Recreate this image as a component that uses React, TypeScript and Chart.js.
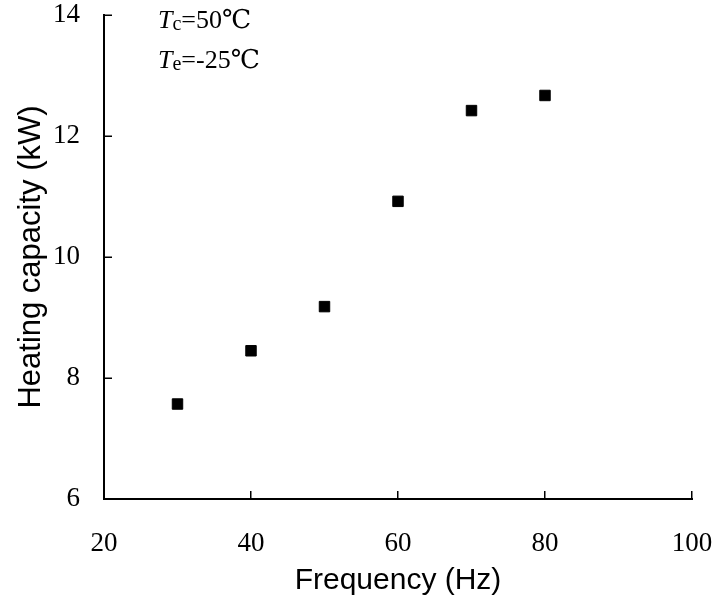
import React, { useEffect, useRef } from "react";
import { Chart, registerables } from "chart.js";

Chart.register(...registerables);

const frequency = [30, 40, 50, 60, 70, 80];
const heatingCapacity = [7.57, 8.45, 9.18, 10.92, 12.42, 12.67];
const xTicks = [20, 40, 60, 80, 100];
const yTicks = [6, 8, 10, 12, 14];
const annotationLines = [
  { main: "T", sub: "c", rest: "=50\u2103" },
  { main: "T", sub: "e", rest: "=-25\u2103" },
];

const SERIF = '"Liberation Serif", "Times New Roman", "DejaVu Serif", "Noto Sans CJK SC", serif';
const SANS = '"Liberation Sans", Arial, sans-serif';

const innerTicksPlugin = {
  id: "innerTicks",
  afterDraw(chart: any) {
    const { ctx, chartArea, scales } = chart;
    const xs = scales.x;
    const ys = scales.y;
    ctx.save();
    ctx.strokeStyle = "#000";
    ctx.lineWidth = 1.5;
    ctx.beginPath();
    xTicks.forEach((v) => {
      const px = Math.round(xs.getPixelForValue(v)) - 0.25;
      ctx.moveTo(px, chartArea.bottom);
      ctx.lineTo(px, chartArea.bottom - 8);
    });
    yTicks.forEach((v) => {
      const py = Math.round(ys.getPixelForValue(v)) + 0.25;
      ctx.moveTo(chartArea.left, py);
      ctx.lineTo(chartArea.left + 8, py);
    });
    ctx.stroke();

    // annotation text
    ctx.fillStyle = "#000";
    ctx.textBaseline = "alphabetic";
    ctx.textAlign = "left";
    const x0 = chartArea.left + 54;
    annotationLines.forEach((ln, i) => {
      const base = chartArea.top + 13 + i * 40;
      let x = x0;
      ctx.font = `italic 26px ${SERIF}`;
      ctx.fillText(ln.main, x, base);
      x += ctx.measureText(ln.main).width;
      ctx.font = `20px ${SERIF}`;
      ctx.fillText(ln.sub, x, base + 2);
      x += ctx.measureText(ln.sub).width;
      ctx.font = `26px ${SERIF}`;
      ctx.fillText(ln.rest, x, base);
    });
    ctx.restore();
  },
};

export default function App() {
  const ref = useRef<HTMLCanvasElement | null>(null);
  useEffect(() => {
    if (!ref.current) return;
    const chart = new Chart(ref.current, {
      type: "scatter",
      data: {
        datasets: [
          {
            data: frequency.map((f, i) => ({ x: f, y: heatingCapacity[i] })),
            pointStyle: "rect",
            pointRadius: 7.4,
            pointHoverRadius: 7.4,
            backgroundColor: "#000",
            borderColor: "#000",
            borderWidth: 1,
          },
        ],
      },
      options: {
        animation: false,
        responsive: true,
        maintainAspectRatio: false,
        layout: { padding: { left: 0, right: 23, top: 15, bottom: 0 } },
        plugins: {
          legend: { display: false },
          tooltip: { enabled: false },
        },
        scales: {
          x: {
            type: "linear",
            min: 20,
            max: 100,
            afterBuildTicks: (s: any) => {
              s.ticks = xTicks.map((v) => ({ value: v }));
            },
            afterFit: (s: any) => {
              s.height = 97;
              s.paddingLeft = 0;
              s.paddingRight = 0;
            },
            grid: { display: false, drawTicks: false },
            border: { display: true, color: "#000", width: 2 },
            ticks: {
              color: "#000",
              padding: 31,
              maxRotation: 0,
              autoSkip: false,
              font: { family: SERIF, size: 27, lineHeight: 1.0 },
            },
            title: {
              display: true,
              text: "Frequency (Hz)",
              color: "#000",
              padding: { top: 0, bottom: 0 },
              font: { family: SANS, size: 30, lineHeight: 1.0 },
            },
          },
          y: {
            type: "linear",
            min: 6,
            max: 14,
            afterBuildTicks: (s: any) => {
              s.ticks = yTicks.map((v) => ({ value: v }));
            },
            afterFit: (s: any) => {
              s.width = 104;
              s.paddingTop = 0;
              s.paddingBottom = 0;
            },
            grid: { display: false, drawTicks: false },
            border: { display: true, color: "#000", width: 2 },
            ticks: {
              color: "#000",
              padding: 24,
              autoSkip: false,
              font: { family: SERIF, size: 27, lineHeight: 1.0 },
            },
            title: {
              display: true,
              text: "Heating capacity (kW)",
              color: "#000",
              padding: { top: 13, bottom: 0 },
              font: { family: SANS, size: 31, lineHeight: 1.2 },
            },
          },
        },
      },
      plugins: [innerTicksPlugin],
    });
    return () => chart.destroy();
  }, []);
  return (
    <div style={{ position: "fixed", left: 0, top: 0, width: 715, height: 596, background: "#fff" }}>
      <canvas ref={ref} />
    </div>
  );
}
